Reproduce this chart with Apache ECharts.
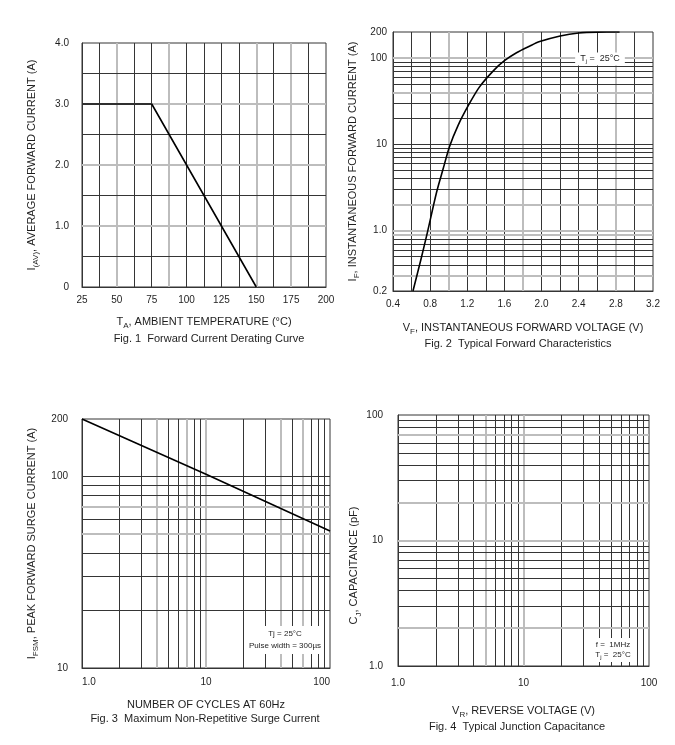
<!DOCTYPE html>
<html>
<head>
<meta charset="utf-8">
<script src="https://cdn.jsdelivr.net/npm/echarts@6/dist/echarts.min.js"></script>
<style>
html,body{margin:0;padding:0;background:#fff;}
#chart{width:675px;height:745px;}
</style>
</head>
<body>
<div id="chart"></div>
<script>
// ---------- Fig. 1 data ----------
var fig1Temp = [25, 75, 150];
var fig1Current = [3.0, 3.0, 0];
var fig1GridX = [37.5, 50, 62.5, 75, 87.5, 100, 112.5, 125, 137.5, 150, 162.5, 175, 187.5];
var fig1LightX = [50, 87.5, 150, 175];
var fig1GridY = [0.5, 1, 1.5, 2, 2.5, 3, 3.5];
var fig1LightY = [1, 2, 3];

// ---------- Fig. 2 data ----------
var fig2Voltage = [0.615, 0.70, 0.77, 0.87, 0.94, 1.01, 1.10, 1.21, 1.33, 1.48, 1.60, 1.73, 1.87, 1.98, 2.20, 2.40, 2.60, 2.84];
var fig2Current = [0.2, 0.46, 0.95, 2.8, 5.2, 9.5, 16.5, 28, 46, 71, 93, 115, 137, 155, 180, 195, 199.5, 200];
var fig2GridX = [0.6, 0.8, 1.0, 1.2, 1.4, 1.6, 1.8, 2.0, 2.2, 2.4, 2.6, 2.8, 3.0];
var fig2LightX = [1.0, 1.8, 2.8];
var fig2GridY = [0.3, 0.4, 0.5, 0.6, 0.7, 0.8, 0.9, 1, 2, 3, 4, 5, 6, 7, 8, 9, 10, 20, 30, 40, 50, 60, 70, 80, 90, 100];
var fig2LightY = [0.3, 0.9, 1, 2, 40, 100];

// ---------- Fig. 3 data ----------
var fig3Cycles = [1, 10, 100];
var fig3Current = [200, 103, 52];
var fig3GridX = [2, 3, 4, 5, 6, 7, 8, 9, 10, 20, 30, 40, 50, 60, 70, 80, 90];
var fig3LightX = [4, 7, 10, 40, 60];
var fig3GridY = [20, 30, 40, 50, 60, 70, 80, 90, 100];
var fig3LightY = [50, 70];

// ---------- Fig. 4 data (grid only) ----------
var fig4Voltage = [];
var fig4Capacitance = [];
var fig4GridX = [2, 3, 4, 5, 6, 7, 8, 9, 10, 20, 30, 40, 50, 60, 70, 80, 90];
var fig4LightX = [5, 10];
var fig4GridY = [2, 3, 4, 5, 6, 7, 8, 9, 10, 20, 30, 40, 50, 60, 70, 80, 90];
var fig4LightY = [2, 10, 20, 70];

var FONT = "'Liberation Sans', Arial, sans-serif";
var DARK = '#353535';
var LIGHT = '#bdbdbd';
var TXT = '#1e1e1e';

function gridMarks(xs, lx, ys, ly) {
  var d = [];
  xs.forEach(function (v) {
    var light = lx.indexOf(v) >= 0;
    d.push({xAxis: v, lineStyle: {color: light ? LIGHT : DARK, width: light ? 2 : 1, type: 'solid'}});
  });
  ys.forEach(function (v) {
    var light = ly.indexOf(v) >= 0;
    d.push({yAxis: v, lineStyle: {color: light ? LIGHT : DARK, width: light ? 2 : 1, type: 'solid'}});
  });
  return d;
}

var rich = {
  n: {fontSize: 11, lineHeight: 16, color: TXT, fontFamily: FONT},
  s: {fontSize: 8, lineHeight: 8, verticalAlign: 'bottom', color: TXT, fontFamily: FONT}
};
function nameStyle(extra) {
  var o = {fontSize: 11, color: TXT, fontFamily: FONT, rich: rich};
  if (extra) for (var k in extra) o[k] = extra[k];
  return o;
}
function logFmt(v) { return v < 9.5 ? v.toFixed(1) : String(Math.round(v)); }
var labelStyle = {fontSize: 10, color: TXT, fontFamily: FONT};

function mkAxisBase() {
  return {
    axisLine: {show: true, lineStyle: {color: DARK, width: 1}},
    axisTick: {show: false},
    splitLine: {show: false},
    nameLocation: 'middle'
  };
}
function ext(a, b) { for (var k in b) a[k] = b[k]; return a; }

var chart = echarts.init(document.getElementById('chart'), null, {renderer: 'canvas'});

var gridStyle = {show: true, borderColor: DARK, borderWidth: 1, backgroundColor: '#fff'};
var titleText = {fontSize: 11, fontWeight: 'normal', color: TXT, fontFamily: FONT};

var option = {
  animation: false,
  backgroundColor: '#fff',
  textStyle: {fontFamily: FONT},
  title: [
    {text: 'Fig. 1  Forward Current Derating Curve', left: 204, top: 328, textAlign: 'center', textStyle: titleText},
    {text: 'Fig. 2  Typical Forward Characteristics', left: 513, top: 333, textAlign: 'center', textStyle: titleText},
    {text: 'Fig. 3  Maximum Non-Repetitive Surge Current', left: 200, top: 708, textAlign: 'center', textStyle: titleText},
    {text: 'Fig. 4  Typical Junction Capacitance', left: 512, top: 716, textAlign: 'center', textStyle: titleText}
  ],
  grid: [
    ext({left: 82, top: 43, width: 244, height: 244}, gridStyle),
    ext({left: 393, top: 32, width: 260, height: 259}, gridStyle),
    ext({left: 82, top: 419, width: 248, height: 249}, gridStyle),
    ext({left: 398, top: 415, width: 251, height: 251}, gridStyle)
  ],
  xAxis: [
    ext(mkAxisBase(), {gridIndex: 0, type: 'value', min: 25, max: 200, interval: 25,
      name: '{n|T}{s|A}{n|, AMBIENT TEMPERATURE (°C)}', nameGap: 27, nameTextStyle: nameStyle(),
      axisLabel: ext({margin: 8}, labelStyle)}),
    ext(mkAxisBase(), {gridIndex: 1, type: 'value', min: 0.4, max: 3.2, interval: 0.4,
      name: '{n|V}{s|F}{n|, INSTANTANEOUS FORWARD VOLTAGE (V)}', nameGap: 29, nameTextStyle: nameStyle(),
      axisLabel: ext({margin: 8, formatter: function (v) { return v.toFixed(1); }}, labelStyle)}),
    ext(mkAxisBase(), {gridIndex: 2, type: 'log', logBase: 10, min: 1, max: 100,
      name: 'NUMBER OF CYCLES AT 60Hz', nameGap: 31, nameTextStyle: nameStyle(),
      axisLabel: ext({margin: 9, formatter: logFmt, alignMinLabel: 'left', alignMaxLabel: 'right'}, labelStyle)}),
    ext(mkAxisBase(), {gridIndex: 3, type: 'log', logBase: 10, min: 1, max: 100,
      name: '{n|V}{s|R}{n|, REVERSE VOLTAGE (V)}', nameGap: 37, nameTextStyle: nameStyle(),
      axisLabel: ext({margin: 12, formatter: logFmt}, labelStyle)})
  ],
  yAxis: [
    ext(mkAxisBase(), {gridIndex: 0, type: 'value', min: 0, max: 4, interval: 1,
      name: '{n|I}{s|(AV)}{n|, AVERAGE FORWARD CURRENT (A)}', nameGap: 42, nameTextStyle: nameStyle(),
      axisLabel: ext({margin: 13, formatter: function (v) { return v === 0 ? '0' : v.toFixed(1); }}, labelStyle)}),
    ext(mkAxisBase(), {gridIndex: 1, type: 'log', logBase: 10, min: 0.2, max: 200,
      name: '{n|I}{s|F}{n|, INSTANTANEOUS FORWARD CURRENT (A)}', nameGap: 32, nameTextStyle: nameStyle(),
      axisLabel: ext({margin: 6, formatter: logFmt}, labelStyle)}),
    ext(mkAxisBase(), {gridIndex: 2, type: 'log', logBase: 10, min: 10, max: 200,
      name: '{n|I}{s|FSM}{n|, PEAK FORWARD SURGE CURRENT (A)}', nameGap: 42, nameTextStyle: nameStyle(),
      axisLabel: ext({margin: 14, formatter: logFmt}, labelStyle)}),
    ext(mkAxisBase(), {gridIndex: 3, type: 'log', logBase: 10, min: 1, max: 100,
      name: '{n|C}{s|J}{n|, CAPACITANCE (pF)}', nameGap: 29, nameTextStyle: nameStyle({padding: [0, 50, 0, 0]}),
      axisLabel: ext({margin: 15, formatter: logFmt}, labelStyle)})
  ],
  series: [
    {type: 'line', xAxisIndex: 0, yAxisIndex: 0, data: [], silent: true, z: 1,
      markLine: {silent: true, symbol: 'none', label: {show: false}, animation: false, data: gridMarks(fig1GridX, fig1LightX, fig1GridY, fig1LightY)}},
    {type: 'line', xAxisIndex: 1, yAxisIndex: 1, data: [], silent: true, z: 1,
      markLine: {silent: true, symbol: 'none', label: {show: false}, animation: false, data: gridMarks(fig2GridX, fig2LightX, fig2GridY, fig2LightY)}},
    {type: 'line', xAxisIndex: 2, yAxisIndex: 2, data: [], silent: true, z: 1,
      markLine: {silent: true, symbol: 'none', label: {show: false}, animation: false, data: gridMarks(fig3GridX, fig3LightX, fig3GridY, fig3LightY)}},
    {type: 'line', xAxisIndex: 3, yAxisIndex: 3, data: [], silent: true, z: 1,
      markLine: {silent: true, symbol: 'none', label: {show: false}, animation: false, data: gridMarks(fig4GridX, fig4LightX, fig4GridY, fig4LightY)}},
    {type: 'line', name: 'Derating', xAxisIndex: 0, yAxisIndex: 0, z: 5, symbol: 'none',
      lineStyle: {color: '#000', width: 1.6},
      data: fig1Temp.map(function (t, i) { return [t, fig1Current[i]]; })},
    {type: 'line', name: 'Forward', xAxisIndex: 1, yAxisIndex: 1, z: 5, symbol: 'none', smooth: 0.3,
      lineStyle: {color: '#000', width: 1.6},
      data: fig2Voltage.map(function (v, i) { return [v, fig2Current[i]]; })},
    {type: 'line', name: 'Surge', xAxisIndex: 2, yAxisIndex: 2, z: 5, symbol: 'none',
      lineStyle: {color: '#000', width: 1.6},
      data: fig3Cycles.map(function (c, i) { return [c, fig3Current[i]]; })},
    {type: 'line', name: 'Capacitance', xAxisIndex: 3, yAxisIndex: 3, z: 5, symbol: 'none',
      lineStyle: {color: '#000', width: 1.6},
      data: fig4Voltage.map(function (v, i) { return [v, fig4Capacitance[i]]; })}
  ],
  graphic: [
    {type: 'text', x: 600, y: 59, z: 10, style: {
      text: '{n|T}{s|j}{n| =  25°C}', align: 'center', verticalAlign: 'middle',
      backgroundColor: '#fff', padding: [1, 5, 1, 5],
      rich: {n: {fontSize: 9, lineHeight: 11, fill: TXT, fontFamily: FONT}, s: {fontSize: 6, lineHeight: 6, verticalAlign: 'bottom', fill: TXT, fontFamily: FONT}}
    }},
    {type: 'text', x: 285, y: 640, z: 10, style: {
      text: 'Tj = 25°C\nPulse width = 300µs', align: 'center', verticalAlign: 'middle',
      fontSize: 8, lineHeight: 12, fill: TXT, fontFamily: FONT,
      backgroundColor: '#fff', padding: [2, 3, 2, 3]
    }},
    {type: 'text', x: 613, y: 650, z: 10, style: {
      text: '{n|f =  1MHz}\n{n|T}{s|j}{n| =  25°C}', align: 'center', verticalAlign: 'middle',
      backgroundColor: '#fff', padding: [2, 4, 2, 4],
      rich: {n: {fontSize: 8, lineHeight: 10, fill: TXT, fontFamily: FONT}, s: {fontSize: 6, lineHeight: 6, verticalAlign: 'bottom', fill: TXT, fontFamily: FONT}}
    }}
  ]
};
chart.setOption(option);
</script>
</body>
</html>
